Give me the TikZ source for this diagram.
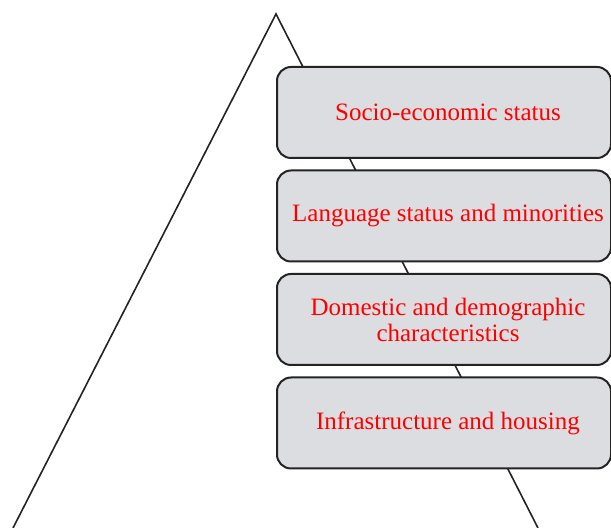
\documentclass[tikz,border=0pt]{standalone}
\usepackage{fontspec}
\setmainfont{Liberation Serif}
\definecolor{levelfill}{RGB}{220,221,224}
\definecolor{linegray}{RGB}{35,35,35}
\begin{document}
\begin{tikzpicture}[
  x=0.5pt, y=-0.5pt,
  level/.style={draw=linegray, fill=levelfill, line width=1pt,
                rounded corners=7pt,
                minimum width=167pt, minimum height=45.5pt, inner sep=0pt},
  leveltext/.style={align=center, text=red, inner sep=0pt,
                    font=\fontsize{12.5}{13}\selectfont},
  edge/.style={draw=linegray, line width=.8pt}
]
\useasboundingbox (0,0) rectangle (611,528);

% pyramid outline behind the levels
\coordinate (apex) at (276,14);
\coordinate (left) at (13,528);
\coordinate (right) at (538,528);
\draw[edge] (left) -- (apex) -- (right);

% levels, top to bottom
\node[level] (ses) at (444,112.5) {};
\node[level] (lang) at (444,216) {};
\node[level] (demo) at (444,319.5) {};
\node[level] (infra) at (444,423) {};

% labels, a little right of centre
\node[leveltext] at ([xshift=2pt]ses.center) {Socio-economic status};
\node[leveltext] at ([xshift=2pt]lang.center) {Language status and minorities};
\node[leveltext] at ([xshift=2pt]demo.center) {Domestic and demographic\\characteristics};
\node[leveltext] at ([xshift=2pt]infra.center) {Infrastructure and housing};
\end{tikzpicture}
\end{document}
